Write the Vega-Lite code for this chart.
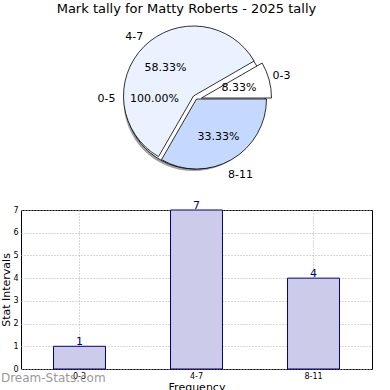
{
  "$schema": "https://vega.github.io/schema/vega-lite/v6.json",
  "padding": {"left": 0, "top": 3, "right": 0, "bottom": 0},
  "config": {"font": "DejaVu Sans", "view": {"stroke": null}},
  "title": {"text": "Mark tally for Matty Roberts - 2025 tally", "fontSize": 13, "fontWeight": "normal", "font": "DejaVu Sans", "anchor": "middle", "offset": 4, "color": "black"},
  "datasets": {
    "slices": [
      {"range": "0-3", "count": 1, "pct": "8.33%"},
      {"range": "4-7", "count": 7, "pct": "58.33%"},
      {"range": "8-11", "count": 4, "pct": "33.33%"}
    ],
    "whole": [
      {"range": "0-5", "count": 12, "pct": "100.00%"}
    ]
  },
  "spacing": 18,
  "vconcat": [
    {
      "width": 351,
      "height": 158,
      "layer": [
        {
          "data": {"name": "whole"},
          "mark": {"type": "arc", "outerRadius": 70, "xOffset": -3, "yOffset": 2, "fill": "#888888", "opacity": 0.8},
          "encoding": {"theta": {"field": "count", "type": "quantitative", "stack": true, "scale": {"domain": [0, 12], "range": [1.5708, -4.7124]}}}
        },
        {
          "data": {"name": "whole"},
          "mark": {"type": "arc", "outerRadius": 70, "xOffset": -1.5, "fill": "#ffffff", "stroke": "black", "strokeWidth": 0.8},
          "encoding": {"theta": {"field": "count", "type": "quantitative", "stack": true}}
        },
        {
          "data": {"name": "slices"},
          "transform": [
            {"stack": "count", "groupby": [], "sort": [{"field": "range"}], "as": ["start", "end"]},
            {"filter": "datum.range === '8-11'"}
          ],
          "mark": {"type": "arc", "outerRadius": 70, "stroke": "black", "strokeWidth": 0.8},
          "encoding": {
            "theta": {"field": "start", "type": "quantitative"},
            "theta2": {"field": "end"},
            "fill": {"field": "range", "type": "nominal", "scale": {"domain": ["0-3", "4-7", "8-11"], "range": ["#ffffff", "#eaf1ff", "#c5d9fe"]}, "legend": null}
          }
        },
        {
          "data": {"name": "slices"},
          "transform": [
            {"stack": "count", "groupby": [], "sort": [{"field": "range"}], "as": ["start", "end"]},
            {"filter": "datum.range === '4-7'"}
          ],
          "mark": {"type": "arc", "outerRadius": 70, "stroke": "black", "strokeWidth": 0.8, "xOffset": -3, "yOffset": -3},
          "encoding": {
            "theta": {"field": "start", "type": "quantitative"},
            "theta2": {"field": "end"},
            "fill": {"field": "range", "type": "nominal", "legend": null}
          }
        },
        {
          "data": {"name": "slices"},
          "transform": [
            {"stack": "count", "groupby": [], "sort": [{"field": "range"}], "as": ["start", "end"]},
            {"filter": "datum.range === '0-3'"}
          ],
          "mark": {"type": "arc", "outerRadius": 70, "stroke": "black", "strokeWidth": 0.8, "xOffset": 5, "yOffset": -1},
          "encoding": {
            "theta": {"field": "start", "type": "quantitative"},
            "theta2": {"field": "end"},
            "fill": {"field": "range", "type": "nominal", "legend": null}
          }
        },
        {
          "data": {"name": "slices"},
          "mark": {"type": "text", "radius": 44, "fontSize": 11, "color": "black"},
          "encoding": {
            "theta": {"field": "count", "type": "quantitative", "stack": true},
            "order": {"field": "range", "type": "ordinal"},
            "text": {"field": "pct"}
          }
        },
        {
          "data": {"name": "slices"},
          "mark": {"type": "text", "radius": 88, "fontSize": 11, "color": "black"},
          "encoding": {
            "theta": {"field": "count", "type": "quantitative", "stack": true},
            "order": {"field": "range", "type": "ordinal"},
            "text": {"field": "range"}
          }
        },
        {
          "data": {"name": "whole"},
          "mark": {"type": "text", "radius": 42, "fontSize": 11, "color": "black"},
          "encoding": {
            "theta": {"field": "count", "type": "quantitative", "stack": true},
            "text": {"field": "pct"}
          }
        },
        {
          "data": {"name": "whole"},
          "mark": {"type": "text", "radius": 90, "fontSize": 11, "color": "black"},
          "encoding": {
            "theta": {"field": "count", "type": "quantitative", "stack": true},
            "text": {"field": "range"}
          }
        }
      ]
    },
    {
      "width": 351,
      "height": 159,
      "view": {"stroke": "black", "strokeWidth": 1},
      "title": {"text": "Dream-Stats.com", "orient": "bottom", "anchor": "start", "frame": "bounds", "color": "#999999", "fontSize": 12, "fontWeight": "normal", "offset": -19},
      "data": {"name": "slices"},
      "encoding": {
        "x": {
          "field": "range", "type": "nominal", "sort": ["0-3", "4-7", "8-11"],
          "scale": {"paddingInner": 0.556, "paddingOuter": 0.278},
          "axis": {"title": "Frequency", "titleFontSize": 11, "titleFontWeight": "normal", "titlePadding": 1, "labelAngle": 0, "labelFontSize": 8, "labelColor": "black", "labelPadding": 3, "domain": false, "ticks": false, "grid": true, "bandPosition": 0.5, "gridDash": [1, 2], "gridColor": "#b0b0b0", "gridWidth": 1}
        },
        "y": {
          "field": "count", "type": "quantitative",
          "scale": {"domain": [0, 7], "nice": false},
          "axis": {"title": "Stat Intervals", "titleFontSize": 11, "titleFontWeight": "normal", "titlePadding": 1, "values": [0, 1, 2, 3, 4, 5, 6, 7], "labelFontSize": 8, "labelColor": "black", "labelPadding": 3, "domain": false, "ticks": false, "grid": true, "gridDash": [1, 2], "gridColor": "#b0b0b0", "gridWidth": 1}
        }
      },
      "layer": [
        {"mark": {"type": "bar", "fill": "#ccccea", "stroke": "#000080", "strokeWidth": 1}},
        {"mark": {"type": "text", "baseline": "bottom", "dy": 1, "fontSize": 11, "color": "#000080"}, "encoding": {"text": {"field": "count"}}}
      ]
    }
  ]
}
